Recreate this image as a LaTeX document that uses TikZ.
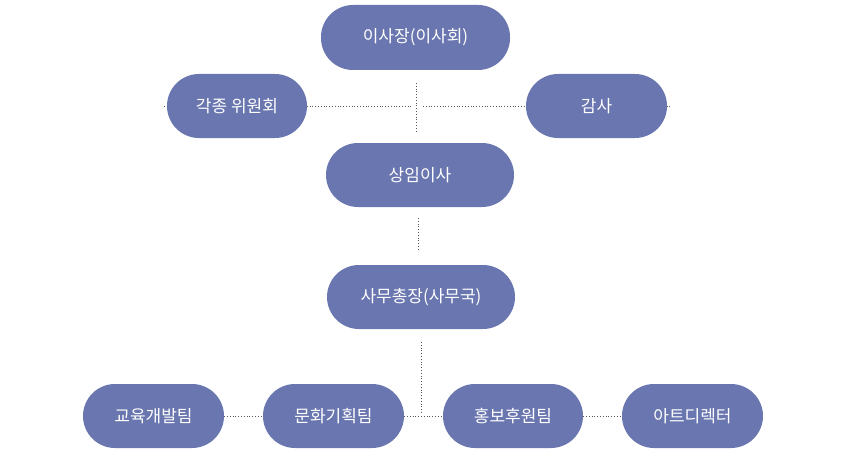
\documentclass[tikz,border=0pt]{standalone}
\usepackage{fontspec}
\newfontfamily\kr{Noto Sans CJK KR}
\definecolor{boxfill}{HTML}{6A76AF}
\definecolor{linecol}{HTML}{555555}
\begin{document}
\begin{tikzpicture}[x=1pt,y=-1pt,
  orgbox/.style={draw=none,fill=boxfill,rounded rectangle,minimum height=64pt,text=white,font=\kr\fontsize{17}{20}\selectfont,inner sep=0pt},
  link/.style={draw=linecol,dotted,line width=0.8pt}]
\useasboundingbox (0,0) rectangle (865,460);
\tikzset{rounded rectangle/.style={rounded corners=32pt,rectangle}}
% connectors first
\coordinate (hl) at (164,106);
\coordinate (hr) at (670,106);
\coordinate (vt) at (416,83);
\coordinate (vb) at (416,132);
\coordinate (gl) at (411,106);
\coordinate (gr) at (423,106);
\coordinate (s1) at (418,218);
\coordinate (s2) at (418,251);
\coordinate (t1) at (421,342);
\coordinate (t2) at (421,414);
\draw[link] (hl) -- (gl);
\draw[link] (gr) -- (hr);
\draw[link] (vt) -- (vb);
\draw[link] (s1) -- (s2);
\draw[link] (t1) -- (t2);
% nodes
\node[orgbox,minimum width=189pt,minimum height=65pt] (chair) at (415.5,37.5) {이사장(이사회)};
\node[orgbox,minimum width=140pt] (comm) at (237,106) {각종 위원회};
\node[orgbox,minimum width=141pt] (audit) at (596.5,106) {감사};
\node[orgbox,minimum width=188pt] (exec) at (420,175) {상임이사};
\node[orgbox,minimum width=188pt] (sec) at (421,297) {사무총장(사무국)};
\node[orgbox,minimum width=141pt] (edu) at (153.5,416) {교육개발팀};
\node[orgbox,minimum width=141pt] (cult) at (333.5,416) {문화기획팀};
\node[orgbox,minimum width=140pt] (pr) at (513,416) {홍보후원팀};
\node[orgbox,minimum width=141pt] (art) at (692.5,416) {아트디렉터};
\draw[link] (edu.east) -- (cult.west);
\draw[link] (cult.east) -- (pr.west);
\draw[link] (pr.east) -- (art.west);
\end{tikzpicture}
\end{document}
